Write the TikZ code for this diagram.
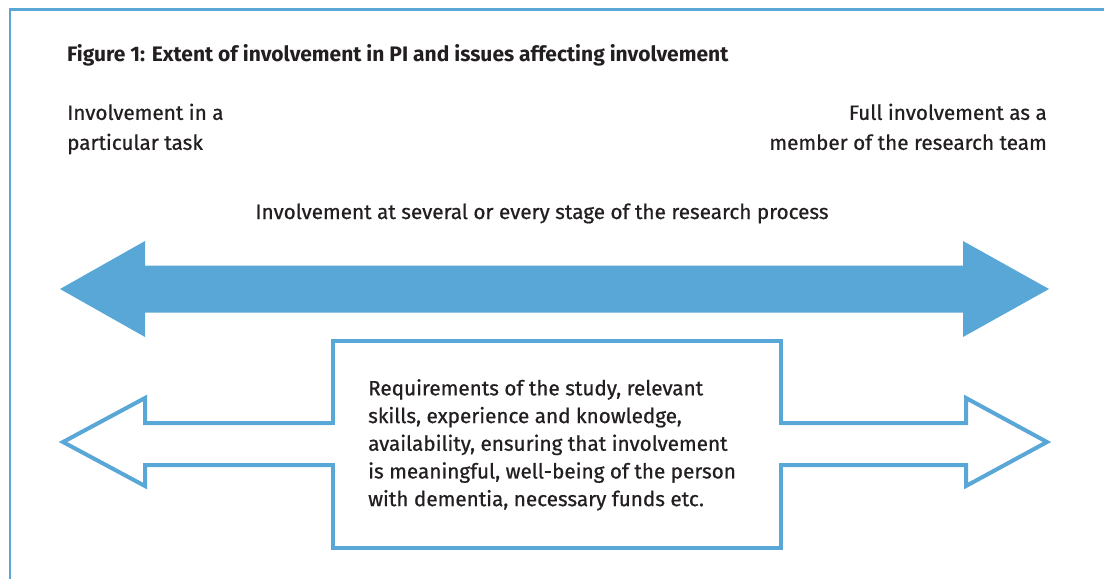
\documentclass[tikz,border=0pt]{standalone}
\usepackage{fontspec}
\setmainfont{Fira Sans}[UprightFeatures={FakeBold=0.7}]
\definecolor{arrowblue}{RGB}{88,167,214}
\definecolor{inktext}{RGB}{35,31,32}
\begin{document}
\begin{tikzpicture}[x=1pt,y=-1pt,
  frameline/.style={draw=arrowblue,line width=2.2pt},
  outline/.style={draw=arrowblue,line width=4pt,fill=white,line join=miter},
  label/.style={inner sep=0pt,text=inktext,font=\fontsize{20.7}{30}\selectfont},
  boxtext/.style={inner sep=0pt,text=inktext,align=left,font=\fontsize{20.7}{27.7}\selectfont}]
\useasboundingbox (0,0) rectangle (1104,579);
% open frame
\draw[frameline] (10,579) -- (10,9.5) -- (1104,9.5);
% title and end labels
\node[label,anchor=base west,font=\bfseries\fontsize{21}{30}\selectfont] (title) at (67,61) {Figure 1: Extent of involvement in PI and issues affecting involvement};
\node[label,anchor=north west,align=left] (left) at (67,103.5) {Involvement in a\\particular task};
\node[label,anchor=north east,align=right] (right) at (1047,103.5) {Full involvement as a\\member of the research team};
\node[label,anchor=base] (stage) at (542,219) {Involvement at several or every stage of the research process};
% solid double arrow
\fill[arrowblue] (60,289) -- (145,241) -- (145,265.5) -- (963,265.5) -- (963,241) -- (1049,289)
  -- (963,337) -- (963,312.5) -- (145,312.5) -- (145,337) -- cycle;
% outlined double arrow joined to the box
\draw[outline] (63,442) -- (145,398) -- (145,423) -- (966,423) -- (966,398) -- (1047,442)
  -- (966,486) -- (966,465) -- (145,465) -- (145,486) -- cycle;
\draw[outline] (333,341) rectangle (781,548);
\fill[white] (331,425) rectangle (783,463);
\draw[arrowblue,line width=4pt] (331,423) -- (335,423) (779,423) -- (783,423) (331,465) -- (335,465) (779,465) -- (783,465);
\node[boxtext,anchor=north west] (factors) at (368,379) {Requirements of the study, relevant\\skills, experience and knowledge,\\availability, ensuring that involvement\\is meaningful, well-being of the person\\with dementia, necessary funds etc.};
\end{tikzpicture}
\end{document}
